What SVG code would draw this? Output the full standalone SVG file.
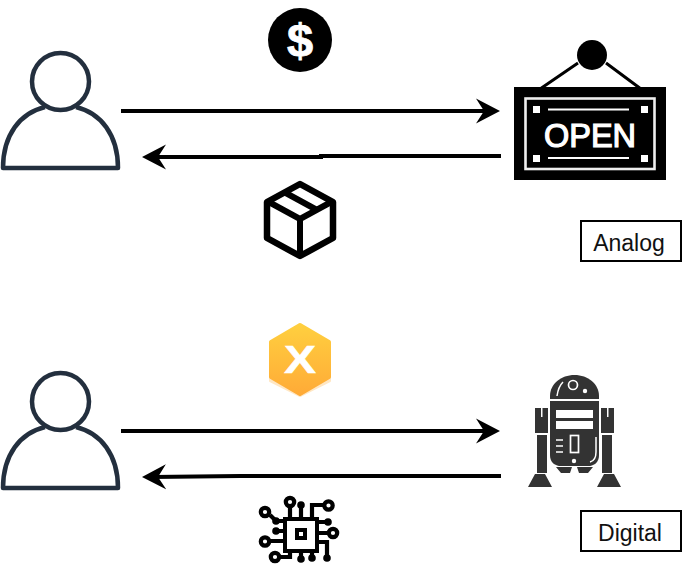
<svg xmlns="http://www.w3.org/2000/svg" width="682" height="572" viewBox="0 0 682 572">
<style>
.user{fill:none;stroke:#232f3e;stroke-width:4.5;stroke-linejoin:round}
.wire{fill:none;stroke:#000;stroke-width:4}
.lbl{fill:#fff;stroke:#000;stroke-width:2}
.lt{font-family:"Liberation Sans",Arial,sans-serif;font-size:23px;fill:#111;text-anchor:middle}
.w{fill:#fff}
.ws{fill:none;stroke:#fff;stroke-width:2}
.c{fill:none;stroke:#000;stroke-width:4.2}
.cd{fill:#000}
</style>
<defs>
<marker id="ah" markerUnits="userSpaceOnUse" markerWidth="26" markerHeight="28" refX="14" refY="14" orient="auto-start-reverse" viewBox="0 0 26 28">
<path d="M24,14 L0,1.500 L8,14 L0,26.500 Z" fill="#000"/>
</marker>
<g id="person">
<circle class="user" cx="60.5" cy="81.5" r="28.5"/>
<path class="user" d="M45,107 C20,113 3,135 3,168 H118 C118,135 101,113 76,107"/>
</g>
<linearGradient id="xg" x1="0" y1="0" x2="0" y2="1"><stop offset="0" stop-color="#ffcf3f"/><stop offset="1" stop-color="#ffab37"/></linearGradient>
</defs>
<g id="connectors">
<path class="wire" marker-end="url(#ah)" d="M121,111 H490"/>
<path class="wire" marker-end="url(#ah)" d="M501,156 H321 V157 H152"/>
<path class="wire" marker-end="url(#ah)" d="M121,431 H490"/>
<path class="wire" marker-end="url(#ah)" d="M501,476 H240 L152,477"/>
</g>
<g id="user-analog"><use href="#person"/></g>
<g id="user-digital"><use href="#person" y="320"/></g>
<g id="coin">
<circle cx="300" cy="40" r="32" fill="#000"/>
<text x="300" y="57" font-family="'Liberation Sans',Arial,sans-serif" font-weight="700" font-size="47" fill="#fff" stroke="#fff" stroke-width=".8" text-anchor="middle">$</text>
</g>
<g id="box">
<path d="M300,184 L333,202 V238 L300,256 L267,238 V202 Z" fill="#fff" stroke="#000" stroke-width="6.500" stroke-linejoin="round"/>
<path d="M267,201 L300,219 L333,201 M300,219 V256 M284,192 L317,210" fill="none" stroke="#000" stroke-width="6"/>
</g>
<g id="open-sign">
<path d="M578,63 L540,89 M606,63 L641,89" fill="none" stroke="#000" stroke-width="3"/>
<circle cx="592" cy="55" r="15" fill="#000"/>
<rect x="514" y="87" width="152" height="93" fill="#000"/>
<rect x="525.500" y="98.500" width="129" height="70.500" fill="none" stroke="#eee" stroke-width="2.600"/>
<rect x="533" y="106" width="7" height="7" class="w"/><rect x="641" y="106" width="7" height="7" class="w"/>
<rect x="533" y="155" width="7" height="7" class="w"/><rect x="641" y="155" width="7" height="7" class="w"/>
<path d="M548,109.500 H629 M548,158 H629" class="ws"/>
<text x="590" y="146.500" font-family="'Liberation Sans',Arial,sans-serif" font-size="32.500" fill="#fff" stroke="#fff" stroke-width="1.200" text-anchor="middle">OPEN</text>
</g>
<g id="label-analog">
<rect class="lbl" x="581" y="221" width="100" height="40"/>
<text class="lt" x="629" y="251">Analog</text>
</g>
<g id="xhex">
<path d="M300,329 L330,346 V381 L300,396 L270,381 V346 Z" fill="#ffe7c4" stroke="#ffe7c4" stroke-width="2" stroke-linejoin="round"/>
<path d="M300,325 L329,342 V377 L300,394 L271,377 V342 Z" fill="url(#xg)" stroke="url(#xg)" stroke-width="4" stroke-linejoin="round"/>
<text x="300" y="372.500" font-family="'Liberation Sans',Arial,sans-serif" font-weight="700" font-size="39" fill="#fff" stroke="#fff" stroke-width=".5" text-anchor="middle" textLength="32" lengthAdjust="spacingAndGlyphs">X</text>
</g>
<g id="robot">
<path d="M550,396 V399 H599 V396 C599,384 588,375 574.500,375 C561,375 550,384 550,396 Z" fill="#333"/>
<path d="M550,401 H599 V455 C599,462 595,465 590,466 H559 C554,465 550,462 550,455 Z" fill="#333"/>
<path d="M556,467 H572 L570,473 H561 Z M577,467 H593 L588,473 H579 Z" fill="#333"/>
<path d="M535,408 H541 V417 H542.500 V408 H548 V433 H535 Z M601,408 H607 V417 H608.500 V408 H614 V433 H601 Z" fill="#333"/>
<path d="M537,435 H547 V473 H537 Z M602,435 H612 V473 H602 Z M535,474 H545 L552,487 H528 Z M604,474 H614 L621,487 H597 Z" fill="#333"/>
<rect x="556" y="410" width="37" height="8" fill="#fff"/><rect x="556" y="421" width="37" height="8" fill="#fff"/>
<circle cx="573" cy="385" r="4.500" fill="none" stroke="#fff" stroke-width="1.700"/>
<circle cx="585" cy="391" r="2.200" fill="#fff"/>
<path d="M557,396 C558,389 560,385 563,382 M556,440 H563 M556,446 H563 M556,452 H563 M596,437 V452 C596,458 594,461 590,462" fill="none" stroke="#fff" stroke-width="1.500"/>
<rect x="570.500" y="435.500" width="8" height="17" fill="none" stroke="#fff" stroke-width="1.700"/>
<circle cx="574" cy="461" r="2.200" fill="#fff"/>
</g>
<g id="chip">
<rect x="285" y="519" width="32" height="32" fill="#fff" stroke="#000" stroke-width="4"/>
<rect x="297" y="530" width="8" height="8" fill="#fff" stroke="#000" stroke-width="4"/>
<path class="c" d="M290,506 V517 M301,505 V517 M312,517 V505 H325 M270,515 L276,521 H283 M276,531 H283 M269,541 H283 M279,557 H290 V553 M301,553 V559 M312,553 V558 M319,522 H328 M319,533 H328 M319,542 H327 V558"/>
<circle class="c" cx="290" cy="502" r="4.200"/><circle class="c" cx="328.500" cy="505.500" r="4.200"/>
<circle class="c" cx="265" cy="512" r="4.200"/><circle class="c" cx="265" cy="541.500" r="4.200"/>
<circle class="c" cx="275" cy="557" r="4.200"/><circle class="c" cx="333" cy="533" r="4.200"/>
<circle class="cd" cx="301" cy="505" r="3.800"/><circle class="cd" cx="276" cy="521" r="3.800"/><circle class="cd" cx="276" cy="531" r="3.800"/>
<circle class="cd" cx="301" cy="559" r="3.800"/><circle class="cd" cx="312" cy="558" r="3.800"/><circle class="cd" cx="328" cy="522" r="3.800"/><circle class="cd" cx="327" cy="558" r="3.800"/>
</g>
<g id="label-digital">
<rect class="lbl" x="581" y="511" width="100" height="40"/>
<text class="lt" x="630" y="541">Digital</text>
</g>
</svg>
